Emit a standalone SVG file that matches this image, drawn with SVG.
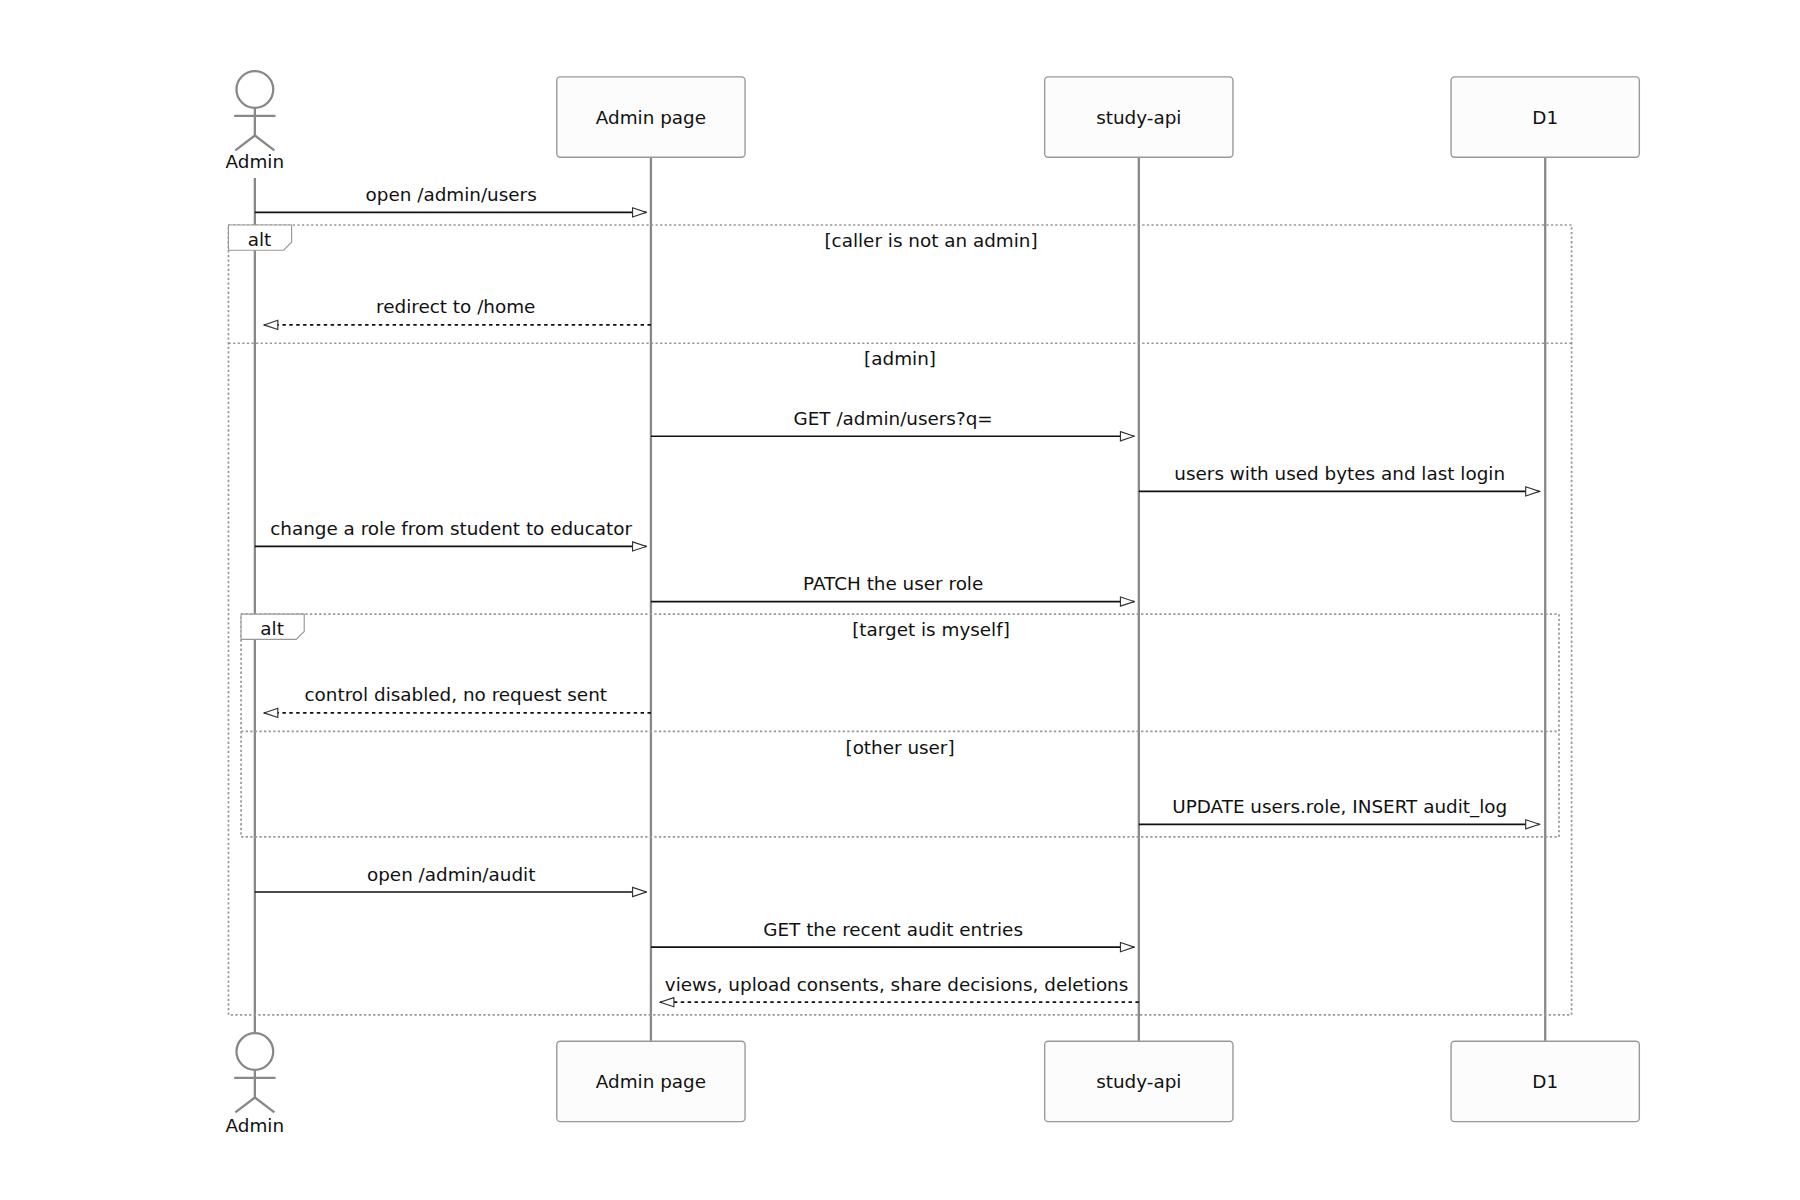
<svg xmlns="http://www.w3.org/2000/svg" width="1800" height="1200" viewBox="0 0 1800 1200">
<style>
text{font-family:"DejaVu Sans","Liberation Sans",sans-serif;font-size:16px;fill:#111;text-anchor:middle}
.box{fill:#fcfcfc;stroke:#999;stroke-width:1.2}
.life{stroke:#888;stroke-width:2}
.act{fill:none;stroke:#888;stroke-width:2}
.msg{stroke:#111;stroke-width:1.5;fill:none}
.dash{stroke-dasharray:3,3}
.frame{fill:none;stroke:#999;stroke-width:1.5;stroke-dasharray:2,2}
.lab{fill:#fff;stroke:#999;stroke-width:1}
</style>
<defs>
<marker id="ah" markerWidth="14" markerHeight="10" refX="13" refY="5" orient="auto" markerUnits="userSpaceOnUse">
<path d="M1,1 L13,5 L1,9 Z" fill="#fff" stroke="#333" stroke-width="1"/>
</marker>
</defs>
<rect width="1800" height="1200" fill="#fff"/>
<g transform="scale(1.148)">
<g id="lifelines">
<line class="life" x1="222" y1="155" x2="222" y2="900"/>
<line class="life" x1="567" y1="137" x2="567" y2="907"/>
<line class="life" x1="992" y1="137" x2="992" y2="907"/>
<line class="life" x1="1346" y1="137" x2="1346" y2="907"/>
</g>
<g id="actor-admin-top">
<circle class="act" cx="222" cy="78" r="16"/>
<path class="act" d="M222,94 V118 M204,101 H240 M222,118 L205,131 M222,118 L239,131"/>
<text x="222" y="146">Admin</text>
</g>
<g id="actor-admin-bottom">
<circle class="act" cx="222" cy="916" r="16"/>
<path class="act" d="M222,932 V956 M204,939 H240 M222,956 L205,969 M222,956 L239,969"/>
<text x="222" y="986">Admin</text>
</g>
<g id="adminpage-top"><rect class="box" x="485" y="67" width="164" height="70" rx="3"/><text x="567" y="108">Admin page</text></g>
<g id="studyapi-top"><rect class="box" x="910" y="67" width="164" height="70" rx="3"/><text x="992" y="108">study-api</text></g>
<g id="d1-top"><rect class="box" x="1264" y="67" width="164" height="70" rx="3"/><text x="1346" y="108">D1</text></g>
<g id="adminpage-bottom"><rect class="box" x="485" y="907" width="164" height="70" rx="3"/><text x="567" y="948">Admin page</text></g>
<g id="studyapi-bottom"><rect class="box" x="910" y="907" width="164" height="70" rx="3"/><text x="992" y="948">study-api</text></g>
<g id="d1-bottom"><rect class="box" x="1264" y="907" width="164" height="70" rx="3"/><text x="1346" y="948">D1</text></g>
<g id="frames">
<rect class="frame" x="199" y="196" width="1170" height="688"/>
<path class="lab" d="M199,196 H254 V211 L247,218 H199 Z"/>
<text x="226" y="214">alt</text>
<text x="811" y="215">[caller is not an admin]</text>
<line class="frame" x1="199" y1="299" x2="1369" y2="299"/>
<text x="784" y="318">[admin]</text>
<rect class="frame" x="210" y="535" width="1148" height="194"/>
<path class="lab" d="M210,535 H265 V550 L258,557 H210 Z"/>
<text x="237" y="553">alt</text>
<text x="811" y="554">[target is myself]</text>
<line class="frame" x1="210" y1="637" x2="1358" y2="637"/>
<text x="784" y="657">[other user]</text>
</g>
<g id="connectors">
<line class="msg" x1="222" y1="185" x2="563" y2="185" marker-end="url(#ah)"/>
<text x="393" y="175">open /admin/users</text>
<line class="msg dash" x1="567" y1="283" x2="230" y2="283" marker-end="url(#ah)"/>
<text x="397" y="273">redirect to /home</text>
<line class="msg" x1="567" y1="380" x2="988" y2="380" marker-end="url(#ah)"/>
<text x="778" y="370">GET /admin/users?q=</text>
<line class="msg" x1="992" y1="428" x2="1341" y2="428" marker-end="url(#ah)"/>
<text x="1167" y="418">users with used bytes and last login</text>
<line class="msg" x1="222" y1="476" x2="563" y2="476" marker-end="url(#ah)"/>
<text x="393" y="466">change a role from student to educator</text>
<line class="msg" x1="567" y1="524" x2="988" y2="524" marker-end="url(#ah)"/>
<text x="778" y="514">PATCH the user role</text>
<line class="msg dash" x1="567" y1="621" x2="230" y2="621" marker-end="url(#ah)"/>
<text x="397" y="611">control disabled, no request sent</text>
<line class="msg" x1="992" y1="718" x2="1341" y2="718" marker-end="url(#ah)"/>
<text x="1167" y="708">UPDATE users.role, INSERT audit_log</text>
<line class="msg" x1="222" y1="777" x2="563" y2="777" marker-end="url(#ah)"/>
<text x="393" y="767">open /admin/audit</text>
<line class="msg" x1="567" y1="825" x2="988" y2="825" marker-end="url(#ah)"/>
<text x="778" y="815">GET the recent audit entries</text>
<line class="msg dash" x1="992" y1="873" x2="575" y2="873" marker-end="url(#ah)"/>
<text x="781" y="863">views, upload consents, share decisions, deletions</text>
</g>
</g>
</svg>
